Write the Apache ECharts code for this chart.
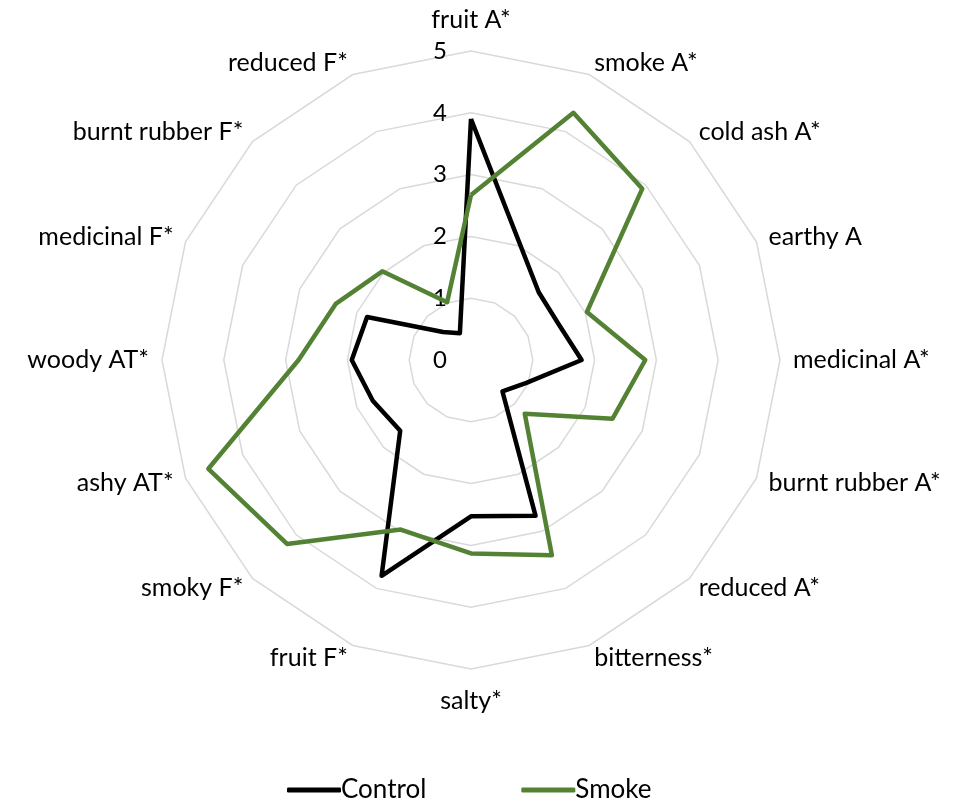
<!DOCTYPE html>
<html>
<head>
<meta charset="utf-8">
<script src="https://cdn.jsdelivr.net/npm/echarts@6/dist/echarts.min.js"></script>
<style>
  html, body { margin:0; padding:0; background:#fff; }
  #radar_chart { width:964px; height:799px; }
</style>
</head>
<body>
<div id="radar_chart"></div>
<script>

// attributes, clockwise from the top
var categories = ["fruit A*","smoke A*","cold ash A*","earthy A","medicinal A*","burnt rubber A*","reduced A*","bitterness*","salty*","fruit F*","smoky F*","ashy AT*","woody AT*","medicinal F*","burnt rubber F*","reduced F*"];

var controlValues = [3.9,2.05,1.55,1.53,1.79,0.97,0.72,2.73,2.53,3.78,1.62,1.72,1.93,1.82,0.64,0.47];

var smokeValues = [2.67,4.33,3.92,2.03,2.82,2.48,1.23,3.42,3.13,2.97,4.21,4.6,2.79,2.37,2.03,1.01];

var tickLabels = ["0","1","2","3","4","5"];


// echarts lays the indicators out counter-clockwise, so keep the first and flip the rest
var order = [0];
for(var i = categories.length - 1; i >= 1; i--){
  order.push(i);
};

function reorder(arr){
  return order.map(function(k){ return arr[k]; });
}

var indicators = order.map(function(k, idx){
  var ind = { name: categories[k], min: 0, max: tickLabels.length - 1 };
  if(idx == 0){
    ind.axisLabel = { show: true };
  }
  return ind;
});

var radarChart = echarts.init(document.getElementById("radar_chart"));

var radarChartOption = {
  animation:false,

  legend:{
    top: 772,
    left: 282,
    itemWidth: 54,
    itemHeight: 5,
    itemGap: 95,
    icon: "roundRect",
    textStyle:{
      fontFamily: "Lato",
      fontSize: 26,
      color: "#000",
      padding: [0,0,0,-5]
    },
    data: ["Control","Smoke"]
  },

  radar:{
    center: [471, 360],
    radius: 309,
    shape: "polygon",
    splitNumber: 5,
    nameGap: 13,
    axisName:{
      color: "#000",
      fontFamily: "Lato",
      fontSize: 25,
      padding: [6,0]
    },
    axisLine:{
      show:false
    },
    axisTick:{
      show:false
    },
    axisLabel:{
      show:false,
      color: "#000",
      fontFamily: "Lato",
      fontSize: 24,
      margin: 24,
      formatter: function(v){ return tickLabels[Math.round(v)]; }
    },
    splitLine:{
      lineStyle:{
        color: "#d9d9d9",
        width: 1.5
      }
    },
    splitArea:{
      show:false
    },
    indicator: indicators
  },

  series:[
    {
      type: "radar",
      symbol: "none",
      data:[
        {
          name: "Control",
          value: reorder(controlValues),
          itemStyle:{ color: "#000" },
          lineStyle:{ color: "#000", width: 4.5 }
        },
        {
          name: "Smoke",
          value: reorder(smokeValues),
          itemStyle:{ color: "#548235" },
          lineStyle:{ color: "#548235", width: 4.5 }
        }
      ]
    }
  ]
};

radarChart.setOption(radarChartOption);

</script>
</body>
</html>
